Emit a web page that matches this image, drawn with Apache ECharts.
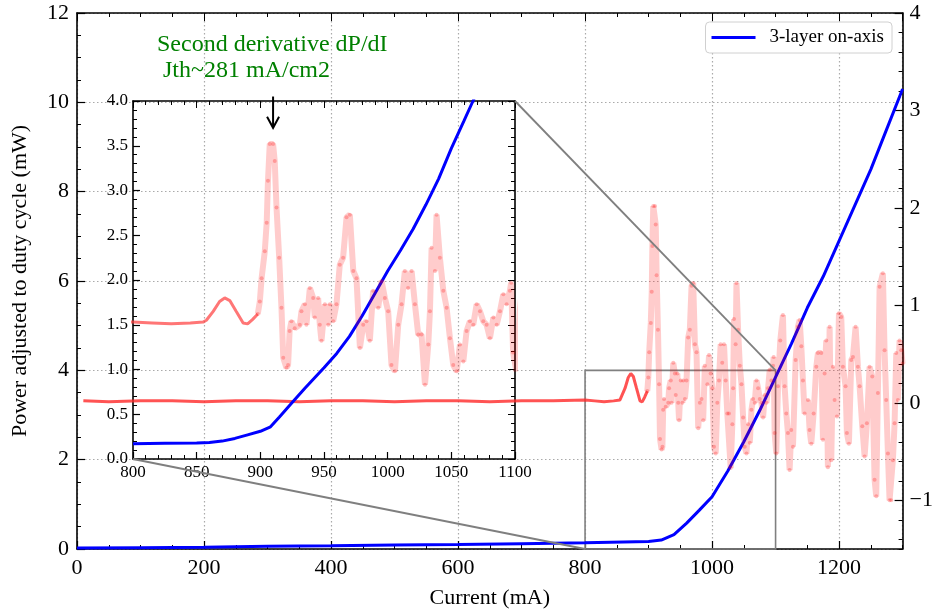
<!DOCTYPE html>
<html>
<head>
<meta charset="utf-8">
<script src="https://cdn.jsdelivr.net/npm/echarts@6/dist/echarts.min.js"></script>
<style>
  html, body { margin: 0; padding: 0; background: #fff; }
  #chart { width: 936px; height: 615px; }
</style>
</head>
<body>
<div id="chart"></div>
<script>
// measured power (left axis, mW)
const powerCurrent = [0, 100, 200, 300, 400, 500, 600, 700, 800, 900, 920, 940, 960, 980, 1000, 1025, 1050, 1075, 1100, 1125, 1150, 1175, 1200, 1225, 1250, 1275, 1300];
const powerValue = [0.02, 0.03, 0.04, 0.06, 0.07, 0.09, 0.10, 0.12, 0.14, 0.17, 0.20, 0.32, 0.58, 0.87, 1.17, 1.75, 2.40, 3.10, 3.85, 4.60, 5.40, 6.10, 6.90, 7.70, 8.50, 9.40, 10.30];

// power curve as drawn in the inset
const zoomCurrent = [800, 825, 850, 860, 870, 880, 890, 900, 908, 915, 925, 935, 950, 960, 970, 980, 990, 1000, 1010, 1020, 1030, 1040, 1050, 1060, 1067, 1075];
const zoomPower = [0.17, 0.175, 0.18, 0.185, 0.20, 0.23, 0.27, 0.31, 0.36, 0.47, 0.63, 0.79, 1.02, 1.18, 1.37, 1.60, 1.85, 2.10, 2.33, 2.57, 2.84, 3.13, 3.47, 3.78, 4.00, 4.25];

// second derivative (right axis)
const d2Current = [10, 50, 100, 150, 200, 250, 300, 350, 400, 450, 500, 550, 600, 650, 700, 750, 800, 815, 830, 845, 855,
  857.6, 863, 868, 872, 876, 881, 886.5, 890, 894, 898,
  899.6, 901, 903.5, 905, 906, 907.4, 910, 911.3, 912.7, 914.8, 916.6, 918, 920.5, 921.8, 923, 924.4, 927, 931, 932.3, 935,
  936.2, 938.9, 941.5, 942.8, 945.4, 946.7, 948, 950.7, 953.3, 954.6, 957.2, 959.8, 962.4, 965, 967.7, 970.3, 973, 975.5,
  978.2, 980.8, 983.4, 986, 988.6, 992.6, 995.2, 997.8, 1000.4, 1003, 1005.7, 1008.3, 1010.9, 1013.5, 1016, 1018.8, 1021.4,
  1024, 1026.6, 1029.3, 1031.9, 1033.2, 1034.5, 1037.1, 1038.4, 1041, 1043.7, 1046.3, 1048.9, 1051.5, 1054.2, 1056.8,
  1059.4, 1062, 1064.6, 1067.2, 1069.9, 1072.5, 1075.1, 1077.7, 1080.3, 1083, 1085.6, 1088.2, 1090.8, 1093.4, 1096, 1097,
  1098.5, 1101.1, 1103.8, 1107.4, 1111.6, 1114.2, 1116.9, 1119.5, 1122.1, 1124.7, 1127.4, 1131.6, 1135.2, 1137.9, 1140.5,
  1143.1, 1145.7, 1151, 1153.6, 1156.2, 1159.9, 1164.1, 1166.7, 1172, 1174.6, 1177.2, 1179.8, 1182.4, 1185.1, 1187.7,
  1190.3, 1192.9, 1196.6, 1199.8, 1203.4, 1206, 1210.2, 1212.3, 1215.5, 1219.2, 1221.8, 1226, 1229.7, 1232.3, 1236.5,
  1240.2, 1243.8, 1248, 1252.2, 1255.9, 1258.5, 1261.1, 1263.8, 1269, 1271.6, 1274.2, 1276.9, 1279.5, 1282.1, 1284.7,
  1287.4, 1290, 1292.6, 1295.2, 1297.9, 1300];
const d2Value = [0.02, 0.01, 0.02, 0.02, 0.01, 0.02, 0.02, 0.01, 0.02, 0.02, 0.01, 0.02, 0.02, 0.01, 0.02, 0.02, 0.03, 0.02, 0.01, 0.02, 0.03,
  0.05, 0.15, 0.26, 0.30, 0.27, 0.15, 0.02, 0.01, 0.06, 0.12,
  0.26, 0.52, 0.82, 1.14, 1.61, 2.02, 2.02, 1.83, 1.31, 0.75, 0.19, -0.37, -0.48, -0.45, -0.07, 0.04, -0.04, 0.00, 0.15, 0.23,
  0.00, 0.41, 0.30, 0.08, 0.30, 0.00, -0.18, 0.23, 0.00, 0.23, 0.04, 0.23, 0.67, 0.75, 1.20, 1.23, 0.60, 0.52,
  -0.26, 0.00, 0.04, -0.18, 0.38, 0.19, 0.49, 0.30, 0.15, -0.45, -0.52, 0.00, 0.23, 0.60, 0.41, 0.60, 0.23,
  -0.11, -0.11, -0.67, -0.22, 0.15, 0.86, 0.60, 1.23, 0.75, 0.38, 0.19, -0.15, -0.45, -0.52, -0.22,
  -0.41, -0.07, 0.04, 0.00, 0.23, 0.15, 0.04, 0.00, -0.15, 0.08, 0.00, 0.15, 0.34, 0.23, 0.38, 0.47,
  -0.31, -0.52, 0.17, 0.64, 0.90, 0.17, -0.11, -0.31, -0.69, -0.28, -0.45, 0.44, 0.78, 0.85, 0.58,
  0.23, -0.11, 0.03, -0.28, -0.42, -0.11, 0.37, 0.51, 0.51, -0.38, 0.30, 0.64, -0.66, 0.78, -0.59,
  0.37, 0.03, -0.14, 0.92, 0.88, 0.37, 0.17, -0.31, -0.42, 0.44, 0.47, 0.78, 0.37, 0.17, -0.24,
  -0.55, -0.21, 0.37, 0.27, -0.79, -0.96, 0.10, 1.19, 1.33, 0.54, 0.03, -0.52, -1.00, -1.00, -0.59,
  -0.21, 0.51, 0.03, 0.64, 0.54, 0.40];

const FONT = 'Liberation Serif';
const BLACK = '#000';
const spine = { show: true, onZero: false, lineStyle: { color: BLACK, width: 1.6 } };
const dotted = { show: true, lineStyle: { color: '#aaaaaa', width: 1.2, type: [1.5, 2.5] } };
const noText = { show: false };
const plain = v => String(v);

const zip = (xs, ys) => xs.map((x, i) => [x, ys[i]]);
const powerData = zip(powerCurrent, powerValue);
const zoomData = zip(zoomCurrent, zoomPower);
const d2Data = zip(d2Current, d2Value);
const d2Flat = d2Data.filter(p => p[0] <= 898);
const d2Noisy = d2Data.filter(p => p[0] >= 898);

// axis that only draws ticks (used for mirrored / minor ticks)
function tickAxis(opt, len) {
  return Object.assign({
    type: 'value',
    axisLine: { show: false, onZero: false },
    axisLabel: noText,
    splitLine: { show: false },
    axisTick: { show: true, inside: true, length: len, lineStyle: { color: BLACK, width: 1 } }
  }, opt);
}

const chart = echarts.init(document.getElementById('chart'));

const option = {
  animation: false,
  backgroundColor: '#fff',
  grid: [
    { left: 77, right: 33, top: 13, bottom: 66 },
    { left: 133, top: 101, width: 382, height: 358 }
  ],
  legend: {
    data: [{ name: '3-layer on-axis', icon: 'rect' }],
    right: 44, top: 22,
    itemWidth: 44, itemHeight: 3,
    padding: [6, 8, 6, 6],
    borderColor: '#d0d0d0', borderWidth: 1, borderRadius: 4,
    backgroundColor: '#fff',
    textStyle: { fontFamily: FONT, fontSize: 19, color: BLACK, padding: [0, 0, 0, 9] }
  },
  xAxis: [
    {
      type: 'value', gridIndex: 0, position: 'bottom', min: 0, max: 1300, interval: 200,
      name: 'Current (mA)', nameLocation: 'middle', nameGap: 38,
      nameTextStyle: { fontFamily: FONT, fontSize: 22, color: BLACK },
      axisLine: spine,
      axisTick: { inside: true, length: 8, lineStyle: { color: BLACK, width: 1.2 } },
      axisLabel: { fontFamily: FONT, fontSize: 22, color: BLACK, margin: 8, showMaxLabel: false, formatter: plain },
      splitLine: dotted
    },
    tickAxis({ gridIndex: 0, position: 'bottom', min: 0, max: 1300, interval: 50 }, 4),
    tickAxis({ gridIndex: 0, position: 'top', min: 0, max: 1300, interval: 200, axisLine: spine }, 8),
    tickAxis({ gridIndex: 0, position: 'top', min: 0, max: 1300, interval: 50 }, 4),
    {
      type: 'value', gridIndex: 1, position: 'bottom', min: 800, max: 1100, interval: 50,
      axisLine: spine,
      axisTick: { inside: true, length: 7, lineStyle: { color: BLACK, width: 1.2 } },
      axisLabel: { fontFamily: FONT, fontSize: 17, color: BLACK, margin: 5, formatter: plain },
      splitLine: { show: false }
    },
    tickAxis({ gridIndex: 1, position: 'bottom', min: 800, max: 1100, interval: 10 }, 4),
    tickAxis({ gridIndex: 1, position: 'top', min: 800, max: 1100, interval: 50, axisLine: spine }, 7),
    tickAxis({ gridIndex: 1, position: 'top', min: 800, max: 1100, interval: 10 }, 4)
  ],
  yAxis: [
    {
      type: 'value', gridIndex: 0, position: 'left', min: 0, max: 12, interval: 2,
      name: 'Power adjusted to duty cycle (mW)', nameLocation: 'middle', nameGap: 46,
      nameTextStyle: { fontFamily: FONT, fontSize: 22, color: BLACK },
      axisLine: spine,
      axisTick: { inside: true, length: 8, lineStyle: { color: BLACK, width: 1.2 } },
      axisLabel: { fontFamily: FONT, fontSize: 22, color: BLACK, margin: 8 },
      splitLine: dotted
    },
    tickAxis({ gridIndex: 0, position: 'left', min: 0, max: 12, interval: 0.5 }, 4),
    {
      type: 'value', gridIndex: 0, position: 'right', min: -1.5, max: 4, splitNumber: 5,
      axisLine: spine,
      axisTick: { inside: true, length: 8, lineStyle: { color: BLACK, width: 1.2 } },
      axisLabel: {
        fontFamily: FONT, fontSize: 22, color: BLACK, margin: 7, showMinLabel: false,
        formatter: v => String(v).replace('-', '\u2212')
      },
      splitLine: { show: false }
    },
    tickAxis({ gridIndex: 0, position: 'right', min: -1.5, max: 4, splitNumber: 27 }, 4),
    {
      type: 'value', gridIndex: 1, position: 'left', min: 0, max: 4, interval: 0.5,
      axisLine: spine,
      axisTick: { inside: true, length: 7, lineStyle: { color: BLACK, width: 1.2 } },
      axisLabel: { fontFamily: FONT, fontSize: 17, color: BLACK, margin: 5, formatter: v => v.toFixed(1) },
      splitLine: { show: false }
    },
    tickAxis({ gridIndex: 1, position: 'left', min: 0, max: 4, interval: 0.1 }, 4),
    tickAxis({ gridIndex: 1, position: 'right', min: 0, max: 4, interval: 0.5, axisLine: spine }, 7),
    tickAxis({ gridIndex: 1, position: 'right', min: 0, max: 4, interval: 0.1 }, 4),
    // same derivative data in the inset, lifted onto the inset scale
    { type: 'value', gridIndex: 1, min: -1.5, max: 2.5, show: false }
  ],
  series: [
    {
      name: '3-layer on-axis', type: 'line', xAxisIndex: 0, yAxisIndex: 0,
      data: powerData, showSymbol: false, silent: true,
      lineStyle: { color: '#0000ff', width: 3 }, itemStyle: { color: '#0000ff' },
      markArea: {
        silent: true,
        itemStyle: { color: 'rgba(0,0,0,0)', borderColor: '#808080', borderWidth: 1.6 },
        data: [[{ coord: [800, 0] }, { coord: [1100, 4] }]]
      }
    },
    {
      name: 'd2 flat', type: 'line', xAxisIndex: 0, yAxisIndex: 2,
      data: d2Flat, showSymbol: false, silent: true,
      lineStyle: { color: 'rgba(255,40,40,0.8)', width: 3 }
    },
    {
      name: 'd2', type: 'line', xAxisIndex: 0, yAxisIndex: 2,
      data: d2Noisy, symbol: 'circle', symbolSize: 4, showAllSymbol: true, silent: true,
      itemStyle: { color: 'rgba(255,0,0,0.25)' },
      lineStyle: { color: 'rgba(255,0,0,0.2)', width: 6 }
    },
    {
      name: 'inset power', type: 'line', xAxisIndex: 4, yAxisIndex: 4,
      data: zoomData, showSymbol: false, silent: true, clip: true,
      lineStyle: { color: '#0000ff', width: 3 }
    },
    {
      name: 'inset d2 flat', type: 'line', xAxisIndex: 4, yAxisIndex: 8,
      data: d2Flat, showSymbol: false, silent: true, clip: true,
      lineStyle: { color: 'rgba(255,60,60,0.7)', width: 3 }
    },
    {
      name: 'inset d2', type: 'line', xAxisIndex: 4, yAxisIndex: 8,
      data: d2Noisy, symbol: 'circle', symbolSize: 4, showAllSymbol: true, silent: true, clip: true,
      itemStyle: { color: 'rgba(255,0,0,0.25)' },
      lineStyle: { color: 'rgba(255,0,0,0.2)', width: 6 }
    }
  ]
};

chart.setOption(option);

// zoom connector lines, arrow and annotation text
const mainPx = p => chart.convertToPixel({ xAxisIndex: 0, yAxisIndex: 0 }, p);
const insetPx = p => chart.convertToPixel({ xAxisIndex: 4, yAxisIndex: 4 }, p);
const boxTR = mainPx([1100, 4]);
const boxBL = mainPx([800, 0]);
const inTR = insetPx([1100, 4]);
const inBL = insetPx([800, 0]);
const arrowFrom = insetPx([910, 4.05]);
const arrowTo = insetPx([910, 3.7]);
const connector = { stroke: '#7f7f7f', lineWidth: 1.8 };

chart.setOption({
  graphic: [
    { type: 'line', z: 50, shape: { x1: inTR[0], y1: inTR[1], x2: boxTR[0], y2: boxTR[1] }, style: connector },
    { type: 'line', z: 50, shape: { x1: inBL[0], y1: inBL[1], x2: boxBL[0], y2: boxBL[1] }, style: connector },
    { type: 'line', z: 50, shape: { x1: arrowFrom[0], y1: arrowFrom[1], x2: arrowTo[0], y2: arrowTo[1] },
      style: { stroke: BLACK, lineWidth: 2 } },
    { type: 'polyline', z: 50,
      shape: { points: [[arrowTo[0] - 6, arrowTo[1] - 11], [arrowTo[0], arrowTo[1]], [arrowTo[0] + 6, arrowTo[1] - 11]] },
      style: { stroke: BLACK, lineWidth: 2, fill: null } },
    { type: 'text', z: 50, left: 157, top: 33,
      style: { text: 'Second derivative dP/dI', fill: '#008000', font: '24px "Liberation Serif"' } },
    { type: 'text', z: 50, left: 163, top: 59,
      style: { text: 'Jth~281 mA/cm2', fill: '#008000', font: '24px "Liberation Serif"' } }
  ]
});
</script>
</body>
</html>
